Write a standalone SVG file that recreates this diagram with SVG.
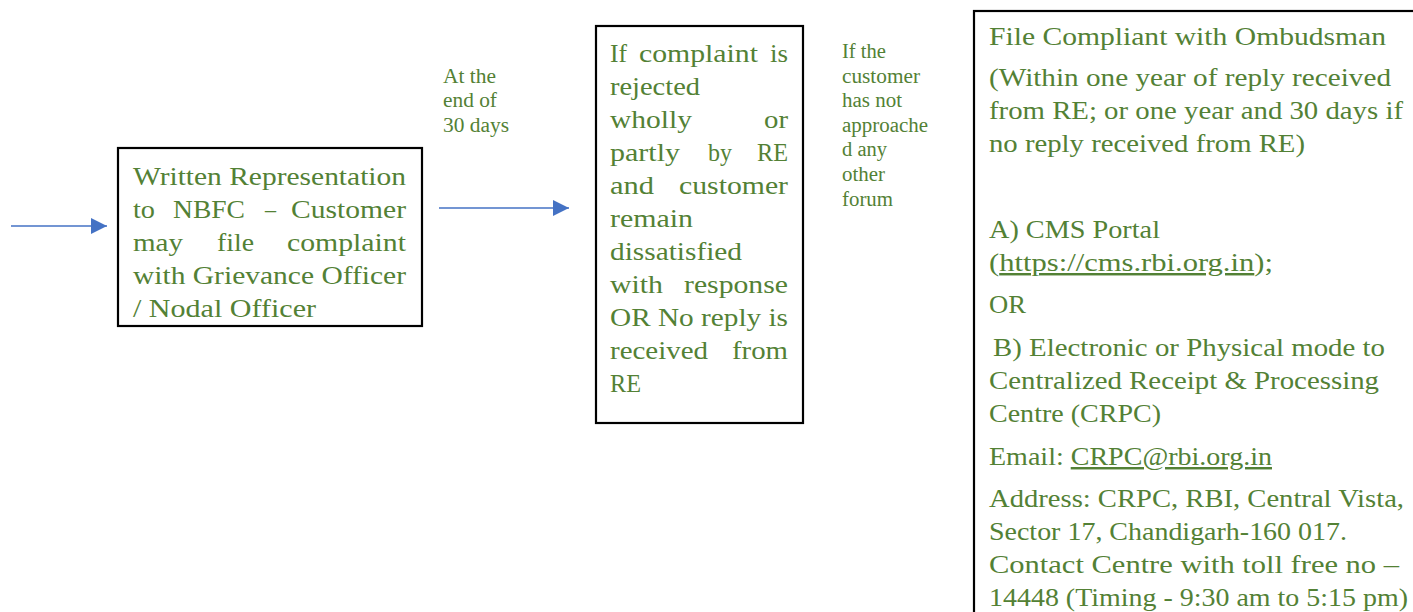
<svg xmlns="http://www.w3.org/2000/svg" width="1413" height="612" viewBox="0 0 1413 612">
<style>
.box{fill:#fff;stroke:#000;stroke-width:2.2}
.t{font-family:"Liberation Serif","DejaVu Serif",serif;font-size:24.5px;fill:#538135}
.s{font-family:"Liberation Serif","DejaVu Serif",serif;font-size:20px;fill:#538135}
.c{stroke:#4472C4;stroke-width:1.5;fill:none}
.u{text-decoration:underline}
</style>
<defs>
<marker id="ah" markerUnits="userSpaceOnUse" markerWidth="16" markerHeight="16" refX="16" refY="8" orient="auto">
<path d="M0,0 L16,8 L0,16 Z" fill="#4472C4"/>
</marker>
</defs>
<rect width="1413" height="612" fill="#fff"/>
<g id="connectors">
<line class="c" x1="11" y1="226" x2="107" y2="226" marker-end="url(#ah)"/>
<line class="c" x1="439" y1="208" x2="569" y2="208" marker-end="url(#ah)"/>
</g>
<g id="label-30days">
<text class="s" x="443" y="83" textLength="53" lengthAdjust="spacingAndGlyphs">At the</text>
<text class="s" x="443" y="107" textLength="54" lengthAdjust="spacingAndGlyphs">end of</text>
<text class="s" x="443" y="132" textLength="66" lengthAdjust="spacingAndGlyphs">30 days</text>
</g>
<g id="label-forum">
<text class="s" x="842" y="58" textLength="44" lengthAdjust="spacingAndGlyphs">If the</text>
<text class="s" x="842" y="83" textLength="78" lengthAdjust="spacingAndGlyphs">customer</text>
<text class="s" x="842" y="107" textLength="60" lengthAdjust="spacingAndGlyphs">has not</text>
<text class="s" x="842" y="132" textLength="86" lengthAdjust="spacingAndGlyphs">approache</text>
<text class="s" x="842" y="156" textLength="45" lengthAdjust="spacingAndGlyphs">d any</text>
<text class="s" x="842" y="181" textLength="43" lengthAdjust="spacingAndGlyphs">other</text>
<text class="s" x="842" y="206" textLength="51" lengthAdjust="spacingAndGlyphs">forum</text>
</g>
<g id="node-written">
<rect class="box" x="118" y="148" width="304" height="178"/>
<text class="t" x="133" y="185" textLength="273" lengthAdjust="spacingAndGlyphs">Written Representation</text>
<text class="t" x="133" y="218" textLength="22" lengthAdjust="spacingAndGlyphs">to</text>
<text class="t" x="173" y="218" textLength="72" lengthAdjust="spacingAndGlyphs">NBFC</text>
<text class="t" x="265" y="218" textLength="11" lengthAdjust="spacingAndGlyphs">–</text>
<text class="t" x="291" y="218" textLength="115" lengthAdjust="spacingAndGlyphs">Customer</text>
<text class="t" x="133" y="251" textLength="50" lengthAdjust="spacingAndGlyphs">may</text>
<text class="t" x="217" y="251" textLength="37" lengthAdjust="spacingAndGlyphs">file</text>
<text class="t" x="287" y="251" textLength="119" lengthAdjust="spacingAndGlyphs">complaint</text>
<text class="t" x="133" y="284" textLength="273" lengthAdjust="spacingAndGlyphs">with Grievance Officer</text>
<text class="t" x="133" y="317" textLength="183" lengthAdjust="spacingAndGlyphs">/ Nodal Officer</text>
</g>
<g id="node-rejected">
<rect class="box" x="596" y="26" width="207" height="397"/>
<text class="t" x="610" y="62" textLength="17" lengthAdjust="spacingAndGlyphs">If</text>
<text class="t" x="639" y="62" textLength="119" lengthAdjust="spacingAndGlyphs">complaint</text>
<text class="t" x="770" y="62" textLength="18" lengthAdjust="spacingAndGlyphs">is</text>
<text class="t" x="610" y="95" textLength="90" lengthAdjust="spacingAndGlyphs">rejected</text>
<text class="t" x="610" y="128" textLength="82" lengthAdjust="spacingAndGlyphs">wholly</text>
<text class="t" x="764" y="128" textLength="24" lengthAdjust="spacingAndGlyphs">or</text>
<text class="t" x="610" y="161" textLength="70" lengthAdjust="spacingAndGlyphs">partly</text>
<text class="t" x="708" y="161" textLength="24" lengthAdjust="spacingAndGlyphs">by</text>
<text class="t" x="757" y="161" textLength="31" lengthAdjust="spacingAndGlyphs">RE</text>
<text class="t" x="610" y="194" textLength="44" lengthAdjust="spacingAndGlyphs">and</text>
<text class="t" x="679" y="194" textLength="109" lengthAdjust="spacingAndGlyphs">customer</text>
<text class="t" x="610" y="227" textLength="83" lengthAdjust="spacingAndGlyphs">remain</text>
<text class="t" x="610" y="260" textLength="132" lengthAdjust="spacingAndGlyphs">dissatisfied</text>
<text class="t" x="610" y="293" textLength="53" lengthAdjust="spacingAndGlyphs">with</text>
<text class="t" x="684" y="293" textLength="104" lengthAdjust="spacingAndGlyphs">response</text>
<text class="t" x="610" y="326" textLength="178" lengthAdjust="spacingAndGlyphs">OR No reply is</text>
<text class="t" x="610" y="359" textLength="98" lengthAdjust="spacingAndGlyphs">received</text>
<text class="t" x="732" y="359" textLength="56" lengthAdjust="spacingAndGlyphs">from</text>
<text class="t" x="610" y="392" textLength="31" lengthAdjust="spacingAndGlyphs">RE</text>
</g>
<g id="node-ombudsman">
<rect class="box" x="974" y="11" width="460" height="620"/>
<text class="t" x="989" y="45" textLength="397" lengthAdjust="spacingAndGlyphs">File Compliant with Ombudsman</text>
<text class="t" x="989" y="86" textLength="402" lengthAdjust="spacingAndGlyphs">(Within one year of reply received</text>
<text class="t" x="989" y="119" textLength="414" lengthAdjust="spacingAndGlyphs">from RE; or one year and 30 days if</text>
<text class="t" x="989" y="152" textLength="316" lengthAdjust="spacingAndGlyphs">no reply received from RE)</text>
<text class="t" x="989" y="238" textLength="171" lengthAdjust="spacingAndGlyphs">A) CMS Portal</text>
<text class="t" x="989" y="271" textLength="284" lengthAdjust="spacingAndGlyphs">(<tspan class="u">https://cms.rbi.org.in</tspan>);</text>
<text class="t" x="989" y="313" textLength="37" lengthAdjust="spacingAndGlyphs">OR</text>
<text class="t" x="993" y="356" textLength="392" lengthAdjust="spacingAndGlyphs">B) Electronic or Physical mode to</text>
<text class="t" x="989" y="389" textLength="390" lengthAdjust="spacingAndGlyphs">Centralized Receipt &amp; Processing</text>
<text class="t" x="989" y="422" textLength="172" lengthAdjust="spacingAndGlyphs">Centre (CRPC)</text>
<text class="t" x="989" y="465" textLength="283" lengthAdjust="spacingAndGlyphs">Email: <tspan class="u">CRPC@rbi.org.in</tspan></text>
<text class="t" x="989" y="507" textLength="415" lengthAdjust="spacingAndGlyphs">Address: CRPC, RBI, Central Vista,</text>
<text class="t" x="989" y="540" textLength="358" lengthAdjust="spacingAndGlyphs">Sector 17, Chandigarh-160 017.</text>
<text class="t" x="989" y="573" textLength="410" lengthAdjust="spacingAndGlyphs">Contact Centre with toll free no –</text>
<text class="t" x="989" y="606" textLength="419" lengthAdjust="spacingAndGlyphs">14448 (Timing - 9:30 am to 5:15 pm)</text>
</g>
</svg>
